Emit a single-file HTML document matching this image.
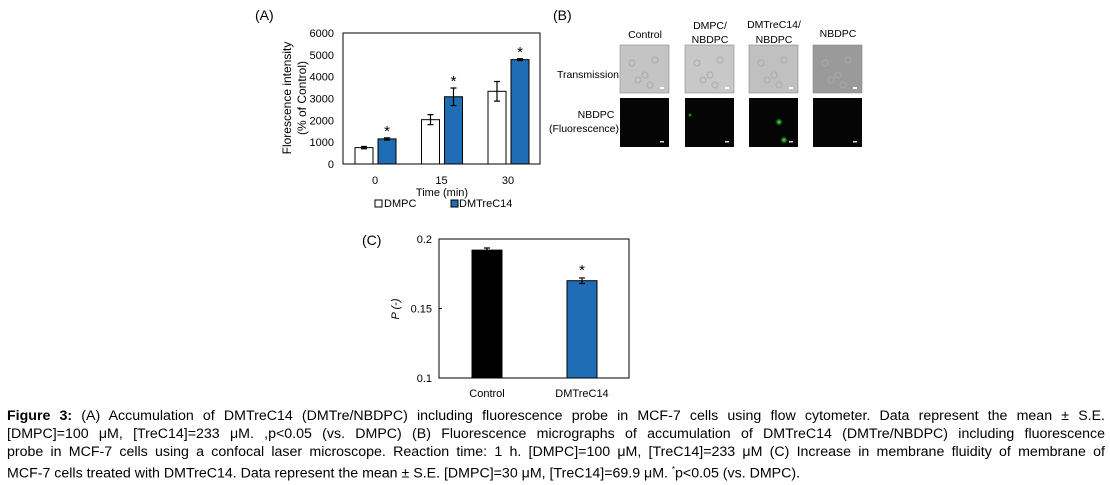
<!DOCTYPE html>
<html><head><meta charset="utf-8"><style>
body{margin:0;width:1110px;height:485px;background:#fff;overflow:hidden;font-family:"Liberation Sans",sans-serif;position:relative}
.cap{position:absolute;left:7px;width:1098px;font-size:14.2px;line-height:18px;color:#000;white-space:nowrap}
.j{text-align:justify;text-align-last:justify;white-space:normal}
svg{position:absolute;left:0;top:0}
</style></head><body>
<svg width="1110" height="400" font-family="Liberation Sans, sans-serif">
<defs>
<radialGradient id="g1"><stop offset="0" stop-color="#6f6"/><stop offset="1" stop-color="#0a0" stop-opacity="0"/></radialGradient>
</defs>
<g id="A"></g>
<g id="B"></g>
<g id="C"></g>
</svg>
<div class="cap j" style="top:407px"><b>Figure 3:</b> (A) Accumulation of DMTreC14 (DMTre/NBDPC) including fluorescence probe in MCF-7 cells using flow cytometer. Data represent the mean ± S.E.</div>
<div class="cap j" style="top:425px">[DMPC]=100 μM, [TreC14]=233 μM. ,p&lt;0.05 (vs. DMPC) (B) Fluorescence micrographs of accumulation of DMTreC14 (DMTre/NBDPC) including fluorescence</div>
<div class="cap j" style="top:443px">probe in MCF-7 cells using a confocal laser microscope. Reaction time: 1 h. [DMPC]=100 μM, [TreC14]=233 μM (C) Increase in membrane fluidity of membrane of</div>
<div class="cap" style="top:461px">MCF-7 cells treated with DMTreC14. Data represent the mean ± S.E. [DMPC]=30 μM, [TreC14]=69.9 μM. <sup style="font-size:8px">*</sup>p&lt;0.05 (vs. DMPC).</div>
<script>
const NS='http://www.w3.org/2000/svg';
function mk(p,t,a,txt){const e=document.createElementNS(NS,t);for(const k in a)e.setAttribute(k,a[k]);if(txt!=null)e.textContent=txt;p.appendChild(e);return e;}
// Panel A data
const aCategories=['0','15','30'];
const aDMPC=[750,2030,3330];
const aDMPCerr=[50,230,450];
const aTre=[1150,3080,4780];
const aTreErr=[50,400,40];
const aTicks=[0,1000,2000,3000,4000,5000,6000];
// Panel C data
const cCategories=['Control','DMTreC14'];
const cValues=[0.192,0.170];
const cErr=[0.0015,0.002];
const cTicks=[0.1,0.15,0.2];

const A=document.getElementById('A');
const ay=v=>164-v/6000*131;
mk(A,'text',{x:255,y:20,'font-size':14},'(A)');
let t=mk(A,'rect',{x:343,y:33,width:197,height:131,fill:'none',stroke:'#000','stroke-width':1});

aTicks.forEach(v=>{const e=mk(A,'text',{x:334,y:ay(v)+4,'font-size':11,'text-anchor':'end'},String(v));
});
const acx=i=>375+i*66.5;
aCategories.forEach((c,i)=>{
 const x=acx(i);
 const l=mk(A,'text',{x:x,y:184,'font-size':11,'text-anchor':'middle'},c);
 
 const b1=mk(A,'rect',{x:x-20,y:ay(aDMPC[i]),width:18,height:ay(0)-ay(aDMPC[i]),fill:'#fff',stroke:'#000'});
 
 const b2=mk(A,'rect',{x:x+3,y:ay(aTre[i]),width:18,height:ay(0)-ay(aTre[i]),fill:'#1f6db5',stroke:'#000'});
 
 [[x-11,aDMPC[i],aDMPCerr[i]],[x+12,aTre[i],aTreErr[i]]].forEach(([ex,v,er])=>{
  mk(A,'path',{d:`M${ex},${ay(v+er)}V${ay(v-er)}M${ex-3},${ay(v+er)}h6M${ex-3},${ay(v-er)}h6`,stroke:'#000','stroke-width':1.2,fill:'none'});
 });
 const s=mk(A,'text',{x:x+12,y:ay(aTre[i]+aTreErr[i])-2,'font-size':15,'text-anchor':'middle'},'*');
 
});
mk(A,'text',{x:442,y:196,'font-size':11,'text-anchor':'middle'},'Time (min)');
mk(A,'text',{transform:'translate(291,98) rotate(-90)','font-size':12,'text-anchor':'middle'},'Florescence intensity');
mk(A,'text',{transform:'translate(306,98) rotate(-90)','font-size':12,'text-anchor':'middle'},'(% of Control)');
mk(A,'rect',{x:375,y:200,width:7,height:7,fill:'#fff',stroke:'#000'});
mk(A,'text',{x:384,y:207,'font-size':11},'DMPC');
mk(A,'rect',{x:451,y:200,width:7,height:7,fill:'#1f6db5',stroke:'#000'});
mk(A,'text',{x:459,y:207,'font-size':11},'DMTreC14');

// Panel B
const B=document.getElementById('B');
mk(B,'text',{x:553,y:20,'font-size':14},'(B)');
const colX=[620,685,749,813];
const colLab=[['Control'],['DMPC/','NBDPC'],['DMTreC14/','NBDPC'],['NBDPC']];
const colY=[[38],[29,43],[28,43],[37]];
const trans=['#c4c4c4','#c8c8c8','#c0c0c0','#9a9a9a'];
colX.forEach((x,i)=>{
 colLab[i].forEach((s,k)=>mk(B,'text',{x:x+25,y:colY[i][k],'font-size':10.5,'text-anchor':'middle'},s));
 const r=mk(B,'rect',{x:x,y:45,width:49,height:48,fill:trans[i],stroke:'#888','stroke-width':.6});
 
 [[12,18],[25,30],[35,15],[18,35],[30,40]].forEach(([dx,dy])=>mk(B,'circle',{cx:x+dx,cy:45+dy,r:3,fill:'none',stroke:'#aaa','stroke-width':1}));
 mk(B,'rect',{x:x+40,y:87,width:4,height:2,fill:'#fff'});
 const f=mk(B,'rect',{x:x,y:98,width:49,height:49,fill:'#050505'});
 
 mk(B,'rect',{x:x+40,y:141,width:4,height:1.5,fill:'#ddd'});
});
mk(B,'circle',{cx:690,cy:115,r:2,fill:'url(#g1)'});
mk(B,'circle',{cx:779,cy:122,r:4,fill:'url(#g1)'});
mk(B,'circle',{cx:784,cy:140,r:4,fill:'url(#g1)'});
mk(B,'text',{x:619,y:78,'font-size':10.5,'text-anchor':'end'},'Transmission');
mk(B,'text',{x:596,y:118,'font-size':10.5,'text-anchor':'middle'},'NBDPC');
mk(B,'text',{x:619,y:132,'font-size':10.5,'text-anchor':'end'},'(Fluorescence)');

// Panel C
const C=document.getElementById('C');
const cy=v=>378-(v-0.1)/0.1*139;
mk(C,'text',{x:362,y:245,'font-size':14},'(C)');
const pc=mk(C,'rect',{x:439,y:239,width:190,height:139,fill:'none',stroke:'#000'});

cTicks.forEach(v=>{const e=mk(C,'text',{x:432,y:cy(v)+4,'font-size':11,'text-anchor':'end'},String(v));
 
 mk(C,'path',{d:`M439,${cy(v)}h3`,stroke:'#000'});});
const cCol=['#000','#1f6db5'];
cCategories.forEach((c,i)=>{
 const x=487+i*95;
 const b=mk(C,'rect',{x:x-15,y:cy(cValues[i]),width:30,height:cy(0.1)-cy(cValues[i]),fill:cCol[i],stroke:'#000'});
 
 const t1=cy(cValues[i]+cErr[i]),t2=cy(cValues[i]-cErr[i]);
 mk(C,'path',{d:`M${x},${t1}V${t2}M${x-3},${t1}h6M${x-3},${t2}h6`,stroke:'#000','stroke-width':1.2});
 const l=mk(C,'text',{x:x,y:397,'font-size':11,'text-anchor':'middle'},c);
 
});
mk(C,'text',{x:582,y:cy(cValues[1]+cErr[1])-3,'font-size':15,'text-anchor':'middle'},'*');
mk(C,'text',{transform:'translate(399,309) rotate(-90)','font-size':11,'text-anchor':'middle','font-style':'italic'},'P (-)');
</script>
</body></html>
